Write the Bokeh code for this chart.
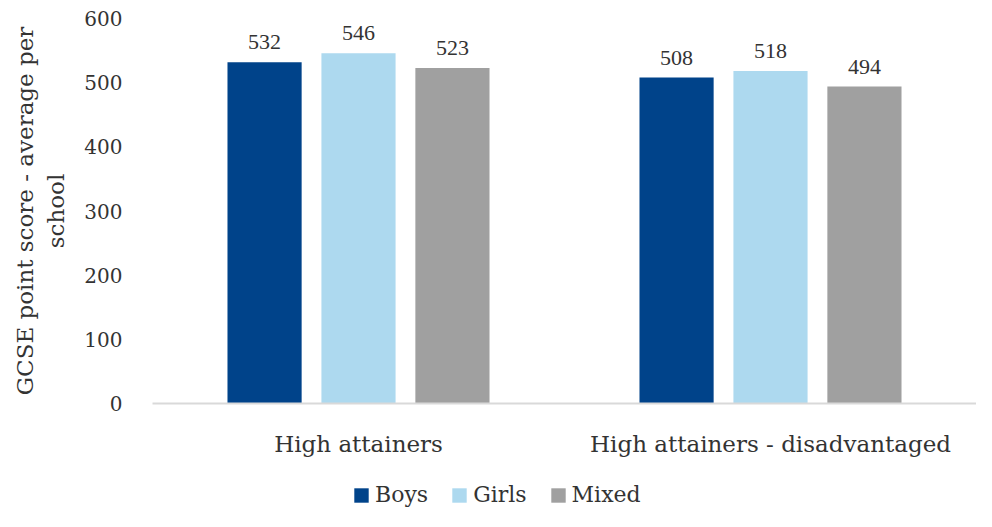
from bokeh.plotting import figure
from bokeh.layouts import column
from bokeh.models import ColumnDataSource, FactorRange, LabelSet, Legend, LegendItem
from bokeh.transform import dodge
from bokeh.embed import file_html
from bokeh.resources import INLINE

categories = ["High attainers", "High attainers - disadvantaged"]
series = ["Boys", "Girls", "Mixed"]
boys = [532, 508]
girls = [546, 518]
mixed = [523, 494]
colors = ["#00438a", "#add9ef", "#a0a0a0"]
y_ticks = [0, 100, 200, 300, 400, 500, 600]

FONT = "DejaVu Serif"
TEXT_COLOR = "#333333"

src = ColumnDataSource(dict(cat=categories, Boys=boys, Girls=girls, Mixed=mixed,
                            Boys_t=[str(v) for v in boys],
                            Girls_t=[str(v) for v in girls],
                            Mixed_t=[str(v) for v in mixed]))

p = figure(x_range=FactorRange(*categories), y_range=(0, 600),
           width=976, height=472, output_backend="svg", toolbar_location=None,
           min_border_left=152, min_border_right=0, min_border_top=18, min_border_bottom=69)

offsets = [-0.228, 0.0, 0.228]
for s, c, o in zip(series, colors, offsets):
    p.vbar(x=dodge("cat", o, range=p.x_range), top=s, width=0.18, source=src,
           fill_color=c, line_color=None)
    lab = LabelSet(x=dodge("cat", o, range=p.x_range), y=s, text=s + "_t", source=src,
                   text_align="center", text_baseline="bottom", y_offset=13,
                   text_font=FONT, text_font_size="22px", text_color=TEXT_COLOR)
    p.add_layout(lab)

p.xgrid.visible = False
p.ygrid.visible = False
p.outline_line_color = None

p.yaxis.ticker = y_ticks
p.yaxis.axis_line_color = None
p.yaxis.major_tick_line_color = None
p.yaxis.minor_tick_line_color = None
p.yaxis.major_label_standoff = 24
p.yaxis.major_label_text_font = FONT
p.yaxis.major_label_text_font_size = "20px"
p.yaxis.major_label_text_color = TEXT_COLOR
p.yaxis.axis_label = "GCSE point score - average per\nschool"
p.yaxis.axis_label_text_font = FONT
p.yaxis.axis_label_text_font_size = "23px"
p.yaxis.axis_label_text_font_style = "normal"
p.yaxis.axis_label_text_color = TEXT_COLOR
p.yaxis.axis_label_standoff = 12

p.xaxis.axis_line_color = "#d9d9d9"
p.xaxis.axis_line_width = 2
p.xaxis.major_tick_line_color = None
p.xaxis.minor_tick_line_color = None
p.xaxis.major_label_standoff = 21
p.xaxis.major_label_text_font = FONT
p.xaxis.major_label_text_font_size = "23px"
p.xaxis.major_label_text_color = TEXT_COLOR

p.x_range.range_padding = 0

# Legend strip below the chart (its bars lie outside its visible y range)
p2 = figure(x_range=FactorRange(*categories), y_range=(1000, 1001),
            width=976, height=39, output_backend="svg", toolbar_location=None,
            x_axis_location=None, y_axis_location=None,
            min_border_left=0, min_border_right=0, min_border_top=0, min_border_bottom=0)
p2.xgrid.visible = False
p2.ygrid.visible = False
p2.outline_line_color = None
items = []
for s, c in zip(series, colors):
    r = p2.vbar(x="cat", top=s, width=0.18, source=src, fill_color=c, line_color=None)
    items.append(LegendItem(label=s, renderers=[r]))
legend = Legend(items=items, orientation="horizontal", location=(200, 4),
                glyph_width=18, glyph_height=18, label_standoff=5, spacing=22,
                label_text_font=FONT, label_text_font_size="22px", label_text_color=TEXT_COLOR,
                border_line_color=None, background_fill_alpha=0, padding=2, margin=0)
p2.add_layout(legend)

open("out.html", "w").write(file_html(column(p, p2, spacing=0), INLINE))
